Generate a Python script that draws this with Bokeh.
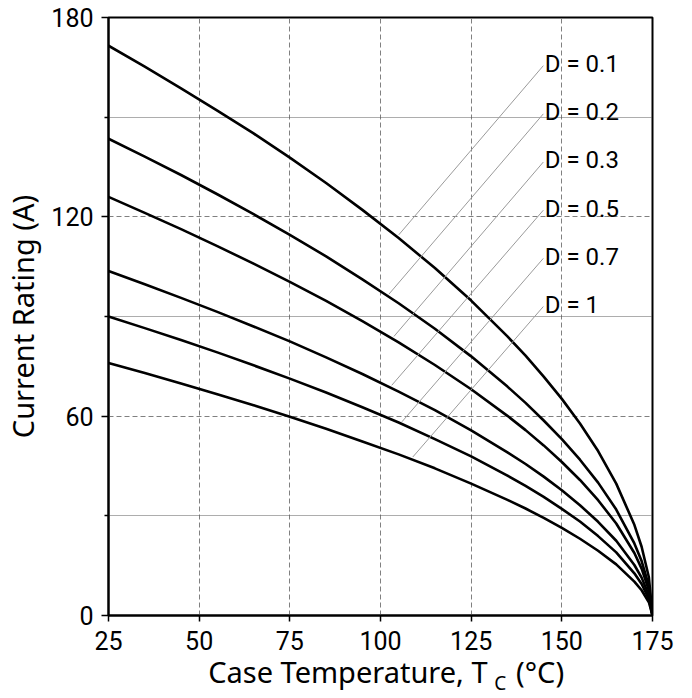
from bokeh.plotting import figure
from bokeh.models import FixedTicker, Range1d, ColumnDataSource, LinearAxis
from bokeh.embed import file_html
from bokeh.resources import INLINE
from bokeh.core.properties import value

# Case temperature (°C)
temps = [25, 35, 45, 55, 65, 75, 85, 95, 105, 115, 125, 135, 140, 145, 150,
         155, 160, 165, 170, 172, 174, 175]

# Current rating (A) per duty cycle
i_d01 = [171.5, 165.2, 158.7, 152.0, 145.1, 137.8, 130.2, 122.1, 113.6, 104.6, 94.8,
         84.0, 78.2, 71.9, 65.2, 57.8, 49.5, 39.7, 27.3, 20.7, 11.5, 0]
i_d02 = [143.5, 138.1, 132.6, 126.8, 120.8, 114.6, 108.1, 101.2, 94.0, 86.3, 78.0,
         68.9, 64.0, 58.7, 53.1, 46.9, 40.0, 31.9, 21.7, 16.4, 8.9, 0]
i_d03 = [126.0, 121.2, 116.3, 111.2, 105.9, 100.4, 94.7, 88.6, 82.2, 75.4, 68.1,
         60.1, 55.8, 51.2, 46.2, 40.8, 34.7, 27.7, 18.8, 14.1, 7.6, 0]
i_d05 = [103.7, 99.7, 95.6, 91.4, 87.0, 82.5, 77.7, 72.7, 67.4, 61.8, 55.7,
         49.1, 45.6, 41.8, 37.7, 33.2, 28.2, 22.5, 15.2, 11.4, 6.1, 0]
i_d07 = [90.0, 86.5, 82.9, 79.2, 75.3, 71.3, 67.1, 62.7, 58.1, 53.1, 47.9,
         42.1, 39.0, 35.7, 32.1, 28.3, 23.9, 19.0, 12.7, 9.5, 5.0, 0]
i_d10 = [76.0, 73.0, 69.8, 66.6, 63.3, 59.8, 56.2, 52.4, 48.5, 44.3, 39.7,
         34.8, 32.2, 29.4, 26.4, 23.1, 19.5, 15.4, 10.2, 7.6, 4.0, 0]

# Annotation labels and leader lines
label_texts = ["D = 0.1", "D = 0.2", "D = 0.3", "D = 0.5", "D = 0.7", "D = 1"]
label_x = [145.3] * 6
label_y = [166.0, 151.5, 137.0, 122.5, 108.0, 93.5]
leader_x0 = [144.9] * 6
leader_y0 = [165.5, 151.0, 136.5, 122.0, 107.5, 93.0]
leader_x1 = [105.05, 102.3, 103.7, 103.1, 105.9, 108.9]
leader_y1 = [114.6, 96.7, 84.0, 69.3, 58.3, 47.7]

x_ticks = [25, 50, 75, 100, 125, 150, 175]
y_ticks = [0, 60, 120, 180]
y_minor = [30, 90, 150]

# Axis title pieces (x title with subscript), anchored at temperature positions
x_title_main = {91: "Case Temperature, T", 144: "(°C)"}
x_title_sub = {133: "C"}
y_title = "Current Rating (A)"

p = figure(width=692, height=698,
           min_border_left=108, min_border_right=40,
           min_border_top=17, min_border_bottom=82,
           x_range=Range1d(25, 175), y_range=Range1d(0, 180),
           output_backend="svg", toolbar_location=None,
           background_fill_color="white", border_fill_color="white")

p.outline_line_color = "black"
p.outline_line_width = 2

# Grids
p.xgrid.ticker = FixedTicker(ticks=x_ticks)
p.xgrid.grid_line_color = "#808080"
p.xgrid.grid_line_dash = "5 3"
p.xgrid.grid_line_width = 1
p.ygrid.ticker = FixedTicker(ticks=y_ticks, minor_ticks=y_minor)
p.ygrid.grid_line_color = "#808080"
p.ygrid.grid_line_dash = "5 3"
p.ygrid.grid_line_width = 1
p.ygrid.minor_grid_line_color = "#5a5a5a"
p.ygrid.minor_grid_line_dash = "1 1"
p.ygrid.minor_grid_line_width = 1

tick_font = "Roboto"
title_font = "Noto Sans"

# X axis
xa = p.xaxis[0]
xa.ticker = FixedTicker(ticks=x_ticks)
xa.axis_line_width = 2
xa.axis_line_color = "black"
xa.major_tick_line_color = "black"
xa.major_tick_line_width = 1.5
xa.major_tick_out = 6
xa.major_tick_in = 0
xa.minor_tick_line_color = None
xa.major_label_text_font = tick_font
xa.major_label_text_font_size = "25px"
xa.major_label_text_color = "black"
xa.major_label_standoff = 9

# Y axis
ya = p.yaxis[0]
ya.ticker = FixedTicker(ticks=y_ticks, minor_ticks=y_minor)
ya.axis_line_width = 2
ya.axis_line_color = "black"
ya.major_tick_line_color = "black"
ya.major_tick_line_width = 1.5
ya.major_tick_out = 7
ya.major_tick_in = 0
ya.minor_tick_line_color = "black"
ya.minor_tick_line_width = 1.5
ya.minor_tick_out = 4
ya.minor_tick_in = 0
ya.major_label_text_font = tick_font
ya.major_label_text_font_size = "25px"
ya.major_label_text_color = "black"
ya.major_label_standoff = 8
ya.axis_label = y_title
ya.axis_label_text_font = title_font
ya.axis_label_text_font_size = "29px"
ya.axis_label_text_font_style = "normal"
ya.axis_label_text_color = "black"
ya.axis_label_standoff = 6


def title_axis(labels, size, standoff):
    ax = LinearAxis(ticker=FixedTicker(ticks=list(labels.keys())),
                    major_label_overrides=labels)
    ax.axis_line_color = None
    ax.major_tick_line_color = None
    ax.minor_tick_line_color = None
    ax.major_tick_out = 0
    ax.major_tick_in = 0
    ax.major_label_text_font = title_font
    ax.major_label_text_font_size = size
    ax.major_label_text_color = "black"
    ax.major_label_standoff = standoff
    return ax


p.add_layout(title_axis(x_title_main, "29px", -1), "below")
p.add_layout(title_axis(x_title_sub, "19px", -24), "below")

# Curves
for ys in [i_d01, i_d02, i_d03, i_d05, i_d07, i_d10]:
    p.line(temps, ys, line_color="black", line_width=2.6, line_join="round")

# Leaders and labels
lsrc = ColumnDataSource(dict(x0=leader_x0, y0=leader_y0, x1=leader_x1, y1=leader_y1))
p.segment(x0="x0", y0="y0", x1="x1", y1="y1", source=lsrc,
          line_color="#9a9a9a", line_width=1)
tsrc = ColumnDataSource(dict(x=label_x, y=label_y, text=label_texts))
p.text(x="x", y="y", text="text", source=tsrc,
       text_font=value(tick_font), text_font_size="24px",
       text_baseline="middle", text_align="left", text_color="black")

open("out.html", "w").write(file_html(p, INLINE))
